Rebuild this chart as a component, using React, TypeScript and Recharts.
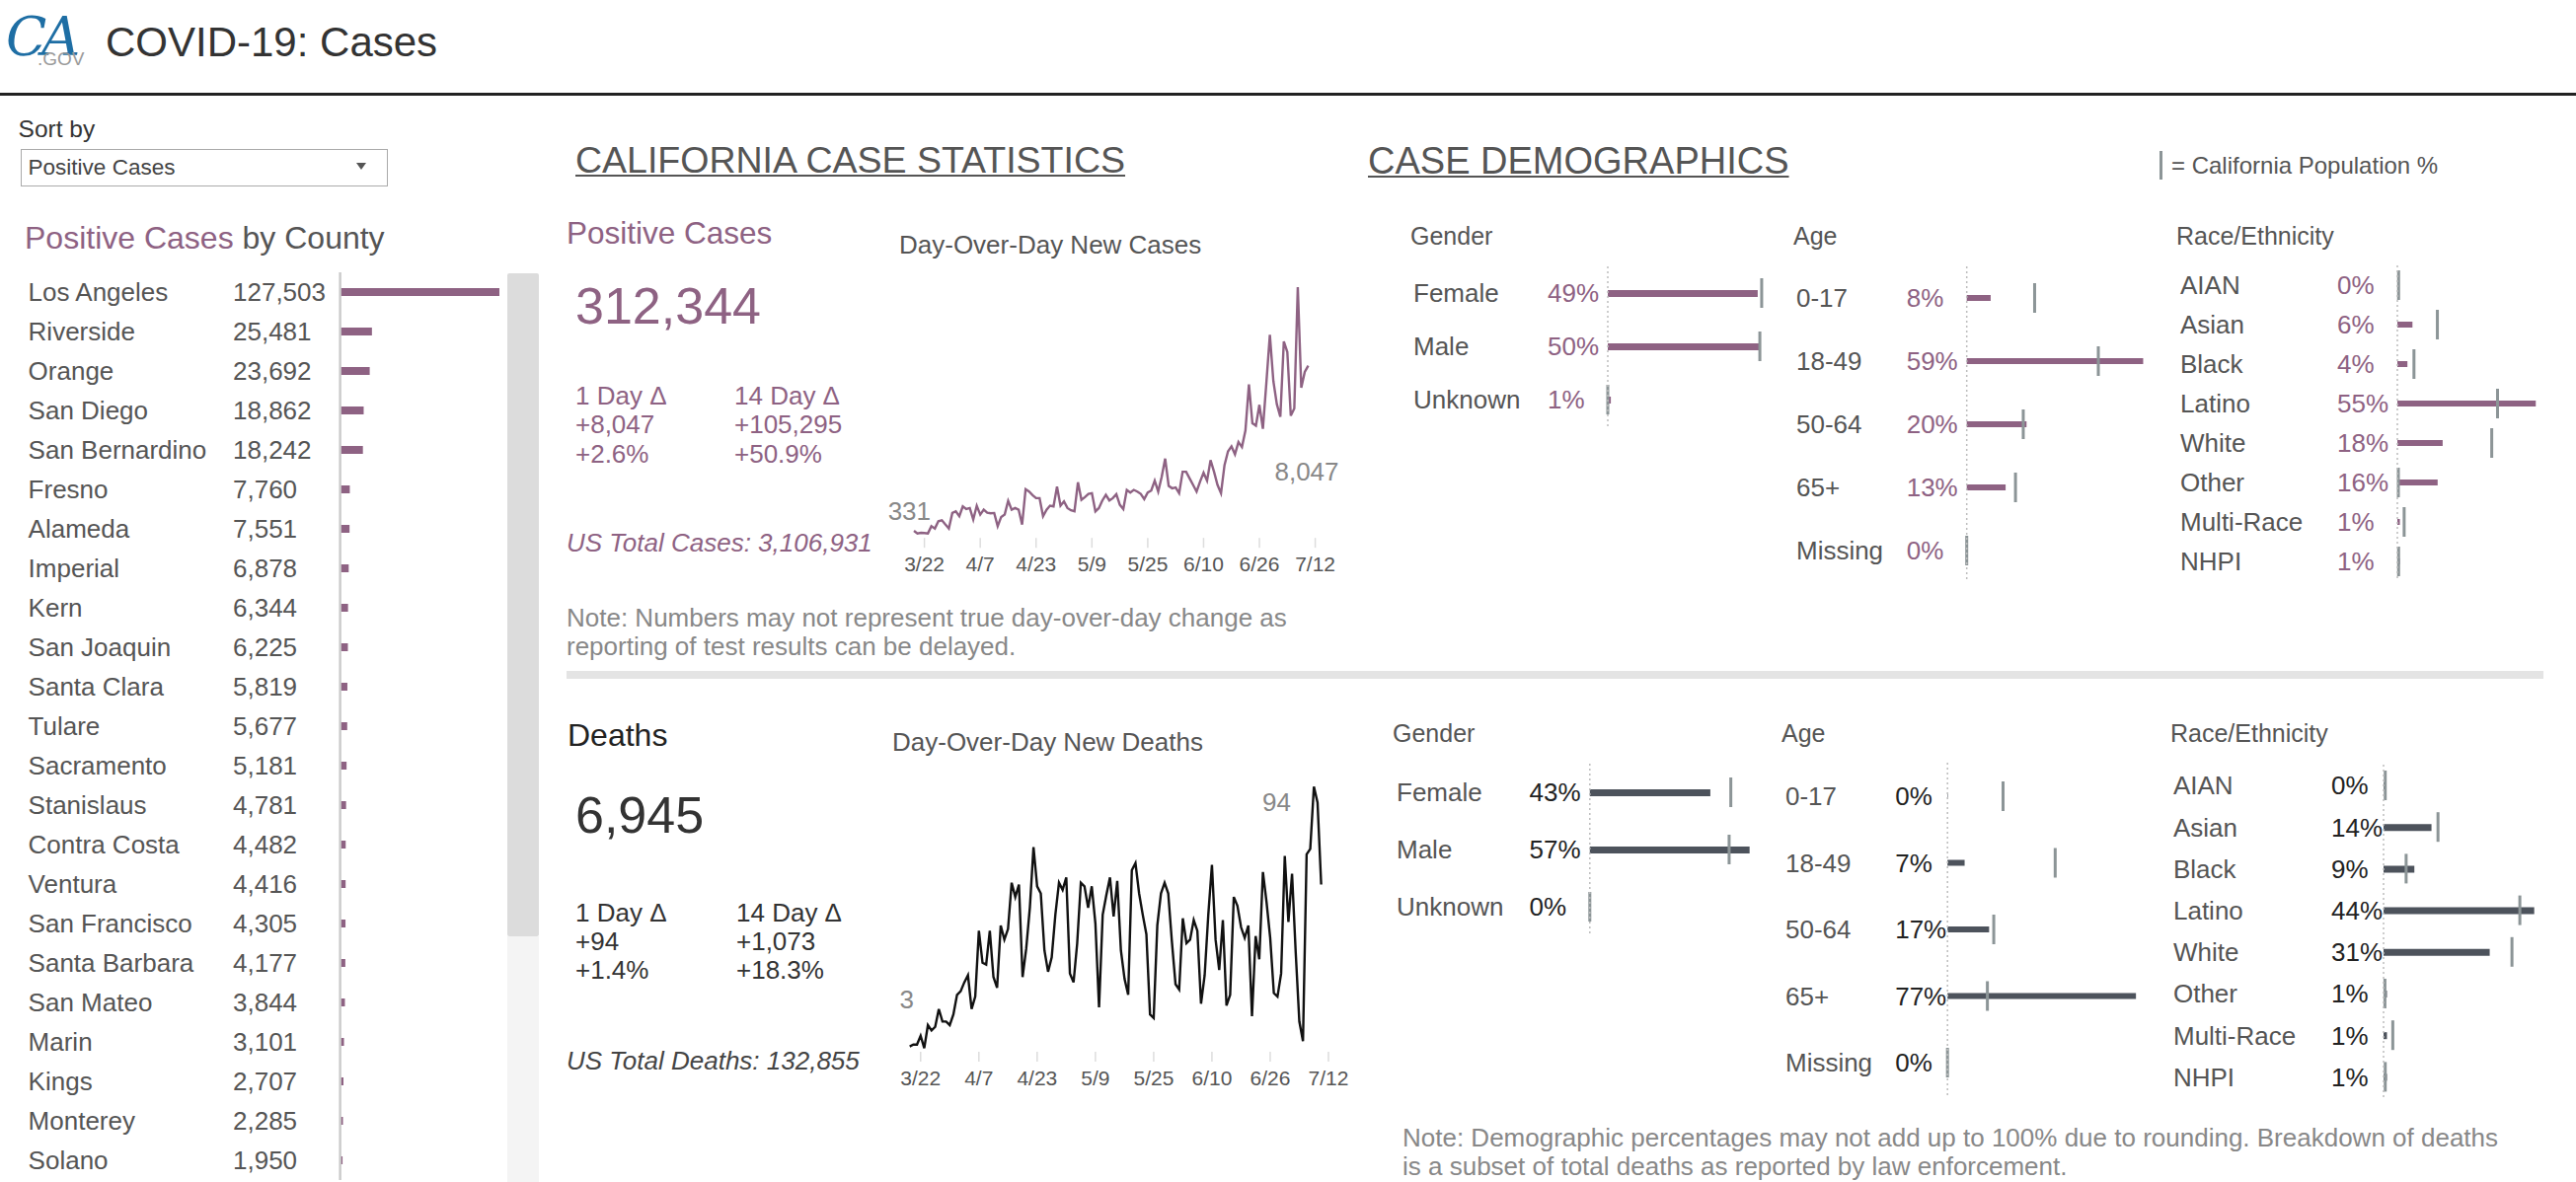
import React from 'react';
import { LineChart, Line, XAxis, YAxis, BarChart, Bar, LabelList } from 'recharts';

const PURPLE = '#8e6283';
const SLATE = '#4d535c';
const MARK = '#8c9597';
const FONT = '"Liberation Sans", Arial, Helvetica, sans-serif';

const countyNames = ['Los Angeles', 'Riverside', 'Orange', 'San Diego', 'San Bernardino', 'Fresno', 'Alameda', 'Imperial', 'Kern', 'San Joaquin', 'Santa Clara', 'Tulare', 'Sacramento', 'Stanislaus', 'Contra Costa', 'Ventura', 'San Francisco', 'Santa Barbara', 'San Mateo', 'Marin', 'Kings', 'Monterey', 'Solano'];
const countyCases = [127503, 25481, 23692, 18862, 18242, 7760, 7551, 6878, 6344, 6225, 5819, 5677, 5181, 4781, 4482, 4416, 4305, 4177, 3844, 3101, 2707, 2285, 1950];

// daily values starting 3/19
const caseDaily = [331, 210, 240, 225, 210, 548, 440, 782, 825, 628,
  440, 1164, 1241, 1010, 1472, 1349, 1395, 856, 1503, 1087,
  1318, 1180, 1150, 1164, 548, 979, 1087, 1734, 1318, 1395,
  1318, 625, 2273, 2165, 2000, 1857, 1857, 1010, 1318, 1503,
  1472, 2396, 1503, 1703, 1395, 1287, 1241, 2596, 1780, 1903,
  2057, 2088, 1241, 1395, 1749, 2011, 1749, 1857, 2042, 1549,
  1349, 2242, 2119, 2242, 2165, 2057, 1811, 2119, 2211, 2673,
  2165, 2858, 3705, 2427, 2319, 2350, 2088, 3089, 3089, 2781,
  2473, 2165, 2627, 3043, 2673, 3628, 3089, 2473, 2088, 3397,
  4043, 4274, 3905, 4475, 4243, 5014, 7170, 5353, 5245, 6215,
  5091, 7247, 9480, 7324, 6246, 5661, 9172, 8679, 5707, 6046,
  11712, 7016, 7755, 8047];
const deathDaily = [3, 4, 4, 9, 2, 15, 12, 14, 24, 17,
  17, 15, 21, 32, 34, 39, 43, 24, 31, 68,
  50, 49, 68, 42, 36, 71, 63, 69, 95, 87,
  94, 42, 58, 81, 115, 93, 89, 57, 45, 53,
  77, 95, 91, 98, 44, 39, 61, 95, 93, 81,
  93, 72, 25, 77, 88, 98, 76, 96, 57, 41,
  32, 102, 106, 89, 77, 66, 21, 19, 71, 89,
  95, 89, 62, 38, 35, 75, 61, 63, 74, 68,
  27, 43, 77, 105, 63, 46, 74, 26, 32, 87,
  82, 70, 64, 71, 20, 65, 52, 101, 84, 64,
  33, 31, 44, 110, 73, 100, 56, 17, 6, 111,
  114, 149, 140, 94];
const tickDays = [3, 19, 35, 51, 67, 83, 99, 115];
const tickLabels = ['3/22', '4/7', '4/23', '5/9', '5/25', '6/10', '6/26', '7/12'];

const genderCats = ['Female', 'Male', 'Unknown'];
const ageCats = ['0-17', '18-49', '50-64', '65+', 'Missing'];
const raceCats = ['AIAN', 'Asian', 'Black', 'Latino', 'White', 'Other', 'Multi-Race', 'NHPI'];
const genderPop = [50.3, 49.7, 0];
const agePop = [22.7, 44.0, 18.9, 16.3, 0];
const racePop = [0.5, 15.9, 6.6, 39.8, 37.5, 0.4, 2.7, 0.5];
const caseGender = [49, 50, 1];
const caseAge = [8, 59, 20, 13, 0];
const caseRace = [0.3, 6, 4, 55, 18, 16, 1, 1];
const deathGender = [43, 57, 0];
const deathAge = [0.2, 7, 17, 77, 0];
const deathRace = [0.3, 14, 9, 44, 31, 1, 1, 1];

const fmt = (n: number) => n.toLocaleString('en-US');

function Txt({ x, cy, size, color = '#555', children, italic, anchor = 'start', style }: any) {
  const st: React.CSSProperties = {
    position: 'absolute', top: cy - 0.49 * size, fontSize: size, lineHeight: `${size}px`, color,
    whiteSpace: 'nowrap', fontStyle: italic ? 'italic' : 'normal', fontFamily: FONT, ...style,
  };
  if (anchor === 'end') st.right = 2610 - x; else st.left = x;
  return <div style={st}>{children}</div>;
}

function CountyChart() {
  const data = countyNames.map((name, i) => ({ name, value: countyCases[i] }));
  const tick = (p: any) => {
    const i = countyNames.indexOf(p.payload.value);
    return (
      <g>
        <text x={28.6} y={p.y + 9.3} fontSize={26} fill="#555">{p.payload.value}</text>
        <text x={236} y={p.y + 9.3} fontSize={26} fill="#555">{fmt(countyCases[i])}</text>
      </g>
    );
  };
  return (
    <div style={{ position: 'absolute', left: 0, top: 275.7 }}>
      <BarChart layout="vertical" width={506} height={920} data={data} margin={{ top: 0, right: 0, bottom: 0, left: 0 }}>
        <XAxis type="number" domain={[0, 127503]} hide />
        <YAxis type="category" dataKey="name" width={344.6} axisLine={{ stroke: '#cccccc', strokeWidth: 2.5 }} tickLine={false} tick={tick} interval={0} />
        <Bar dataKey="value" barSize={8} fill={PURPLE} isAnimationActive={false} />
      </BarChart>
    </div>
  );
}

function DailyLine({ values, color, left, top, width, plotLeft, plotRight, plotTop, plotBottom, labels }: any) {
  const data = values.map((v: number, i: number) => ({ d: i, v }));
  const last = values.length - 1;
  const lab = (p: any) => {
    const { x, y, index, value } = p;
    let o = null;
    if (index === 0) o = labels[0];
    if (index === last) o = labels[1];
    if (!o) return null;
    return <text x={x + o[0]} y={y + o[1] + 9.3} textAnchor="end" fontSize={26} fill="#888">{fmt(value)}</text>;
  };
  return (
    <div style={{ position: 'absolute', left, top }}>
      <LineChart width={width} height={plotTop - top + plotBottom - plotTop + 40} data={data}
        margin={{ top: plotTop - top, left: plotLeft - left, right: left + width - plotRight, bottom: 0 }}>
        <XAxis type="number" dataKey="d" domain={[0, 115]} ticks={tickDays} interval={0} height={40}
          tickFormatter={(d: number) => tickLabels[tickDays.indexOf(d)]} axisLine={false}
          tickLine={{ stroke: '#dddddd', strokeWidth: 1.5 }} tickSize={10} tickMargin={9}
          tick={{ fontSize: 21, fill: '#555' }} />
        <YAxis hide domain={[0, 'dataMax']} />
        <Line type="linear" dataKey="v" stroke={color} strokeWidth={2.4} dot={false} isAnimationActive={false}>
          <LabelList dataKey="v" content={lab} />
        </Line>
      </LineChart>
    </div>
  );
}

function Demo({ cats, vals, pops, labelX, pctX, axisX, scale, top, rowH, barColor, pctColor, barSize }: any) {
  const svgLeft = labelX - 4;
  const axisW = axisX - svgLeft;
  const dom = 80;
  const width = axisW + dom * scale;
  const height = rowH * cats.length;
  const data = cats.map((c: string, i: number) => ({ c, v: vals[i], p: pops[i] }));
  const tick = (p: any) => {
    const i = cats.indexOf(p.payload.value);
    return (
      <g>
        <text x={labelX - svgLeft} y={p.y + 9.3} fontSize={26} fill="#555">{p.payload.value}</text>
        <text x={pctX - svgLeft} y={p.y + 9.3} fontSize={26} fill={pctColor}>{Math.round(vals[i])}%</text>
      </g>
    );
  };
  const marker = (p: any) => (
    <rect x={p.x + p.width - 1.5} y={p.y} width={3} height={p.height} fill={MARK} />
  );
  return (
    <div style={{ position: 'absolute', left: svgLeft, top }}>
      <BarChart layout="vertical" width={width} height={height} data={data} margin={{ top: 0, right: 0, bottom: 0, left: 0 }}>
        <XAxis type="number" domain={[0, dom]} hide />
        <YAxis yAxisId="p" type="category" dataKey="c" hide width={0} />
        <YAxis yAxisId="v" type="category" dataKey="c" width={axisW} interval={0} tickLine={false} tick={tick}
          axisLine={{ stroke: '#bdbdbd', strokeDasharray: '2 3', strokeWidth: 1.5 }} />
        <Bar yAxisId="v" dataKey="v" barSize={barSize} fill={barColor} isAnimationActive={false} />
        <Bar yAxisId="p" dataKey="p" barSize={30} shape={marker} isAnimationActive={false} />
      </BarChart>
    </div>
  );
}

export default function App() {
  const underline: React.CSSProperties = { textDecoration: 'underline', textDecorationThickness: '2px', textUnderlineOffset: '2px' };
  return (
    <div style={{ position: 'absolute', left: 0, top: 0, width: 2610, height: 1198, overflow: 'hidden', background: '#fff', fontFamily: FONT }}>
      {/* header logo */}
      <svg style={{ position: 'absolute', left: 0, top: 0 }} width={100} height={80}>
        <text x={6} y={56} fontFamily='"DejaVu Serif", serif' fontStyle="italic" fontSize={54} fill="#1e6ea4" letterSpacing={-5}>
          CA
          <tspan x={38} y={66} fontFamily={FONT} fontStyle="normal" fontSize={19} fill="#9a9a9a" letterSpacing={0}>.GOV</tspan>
        </text>
      </svg>
      <Txt x={107} cy={42.5} size={42} color="#333">COVID-19: Cases</Txt>
      <div style={{ position: 'absolute', left: 0, top: 94, width: 2610, height: 3, background: '#222' }} />

      {/* sort by */}
      <Txt x={18.6} cy={131} size={24.5} color="#333">Sort by</Txt>
      <div style={{ position: 'absolute', left: 21, top: 151, width: 372, height: 38, border: '1.5px solid #aaa', boxSizing: 'border-box' }} />
      <Txt x={28.6} cy={170} size={22.5} color="#444">Positive Cases</Txt>
      <div style={{ position: 'absolute', left: 361, top: 165, width: 0, height: 0, borderLeft: '5px solid transparent', borderRight: '5px solid transparent', borderTop: '7px solid #555' }} />

      {/* county list */}
      <Txt x={25} cy={241} size={32} color="#555"><span style={{ color: PURPLE }}>Positive Cases</span> by County</Txt>
      <div style={{ position: 'absolute', left: 514, top: 277, width: 32, height: 672, background: '#dcdcdc', borderRadius: 2 }} />
      <div style={{ position: 'absolute', left: 514, top: 949, width: 32, height: 260, background: '#f4f4f4' }} />
      <CountyChart />

      {/* section headings */}
      <Txt x={583} cy={162} size={37.5} color="#555" style={underline}>CALIFORNIA CASE STATISTICS</Txt>
      <Txt x={1386} cy={163} size={38} color="#555" style={underline}>CASE DEMOGRAPHICS</Txt>
      <div style={{ position: 'absolute', left: 2187.5, top: 153, width: 3, height: 29, background: MARK }} />
      <Txt x={2200} cy={168} size={24} color="#555">= California Population %</Txt>

      {/* cases stats */}
      <Txt x={574} cy={236.8} size={31.5} color={PURPLE}>Positive Cases</Txt>
      <Txt x={583} cy={309.5} size={52} color={PURPLE}>312,344</Txt>
      <Txt x={583} cy={401} size={26} color={PURPLE}>1 Day Δ</Txt>
      <Txt x={583} cy={430} size={26} color={PURPLE}>+8,047</Txt>
      <Txt x={583} cy={460} size={26} color={PURPLE}>+2.6%</Txt>
      <Txt x={744} cy={401} size={26} color={PURPLE}>14 Day Δ</Txt>
      <Txt x={744} cy={430} size={26} color={PURPLE}>+105,295</Txt>
      <Txt x={744} cy={460} size={26} color={PURPLE}>+50.9%</Txt>
      <Txt x={574} cy={550} size={26} color={PURPLE} italic>US Total Cases: 3,106,931</Txt>
      <Txt x={911} cy={248} size={26} color="#555">Day-Over-Day New Cases</Txt>
      <DailyLine values={caseDaily} color={PURPLE} left={896} top={280} width={474} plotLeft={926} plotRight={1332.6} plotTop={291} plotBottom={545.2} labels={[[17, -20], [31, 107]]} />
      <Txt x={574} cy={626} size={26} color="#888">Note: Numbers may not represent true day-over-day change as</Txt>
      <Txt x={574} cy={655} size={26} color="#888">reporting of test results can be delayed.</Txt>
      <div style={{ position: 'absolute', left: 574, top: 680, width: 2003, height: 8, background: '#e4e4e4' }} />

      {/* deaths stats */}
      <Txt x={575} cy={745} size={32} color="#222">Deaths</Txt>
      <Txt x={583} cy={825} size={52} color="#333">6,945</Txt>
      <Txt x={583} cy={925} size={26} color="#333">1 Day Δ</Txt>
      <Txt x={583} cy={954} size={26} color="#333">+94</Txt>
      <Txt x={583} cy={983} size={26} color="#333">+1.4%</Txt>
      <Txt x={746} cy={925} size={26} color="#333">14 Day Δ</Txt>
      <Txt x={746} cy={954} size={26} color="#333">+1,073</Txt>
      <Txt x={746} cy={983} size={26} color="#333">+18.3%</Txt>
      <Txt x={574} cy={1075} size={26} color="#444" italic>US Total Deaths: 132,855</Txt>
      <Txt x={904} cy={752} size={26} color="#555">Day-Over-Day New Deaths</Txt>
      <DailyLine values={deathDaily} color="#111" left={896} top={787} width={474} plotLeft={921.7} plotRight={1346} plotTop={797.3} plotBottom={1066} labels={[[4.3, -47.6], [-30.7, -83.7]]} />

      {/* demographics headers */}
      <Txt x={1429} cy={239} size={25}>Gender</Txt>
      <Txt x={1817} cy={239} size={25}>Age</Txt>
      <Txt x={2205} cy={239} size={25}>Race/Ethnicity</Txt>
      <Txt x={1411} cy={743} size={25}>Gender</Txt>
      <Txt x={1805} cy={743} size={25}>Age</Txt>
      <Txt x={2199} cy={743} size={25}>Race/Ethnicity</Txt>

      <Demo cats={genderCats} vals={caseGender} pops={genderPop} labelX={1432} pctX={1568} axisX={1629} scale={3.1} top={270} rowH={54} barColor={PURPLE} pctColor={PURPLE} barSize={7} />
      <Demo cats={ageCats} vals={caseAge} pops={agePop} labelX={1820} pctX={1931.7} axisX={1992.7} scale={3.03} top={269.7} rowH={64} barColor={PURPLE} pctColor={PURPLE} barSize={6} />
      <Demo cats={raceCats} vals={caseRace} pops={racePop} labelX={2209} pctX={2368} axisX={2429} scale={2.55} top={269} rowH={40} barColor={PURPLE} pctColor={PURPLE} barSize={6} />
      <Demo cats={genderCats} vals={deathGender} pops={genderPop} labelX={1415} pctX={1549.6} axisX={1610.8} scale={2.84} top={773.7} rowH={58} barColor={SLATE} pctColor="#222" barSize={7} />
      <Demo cats={ageCats} vals={deathAge} pops={agePop} labelX={1808.8} pctX={1920} axisX={1973} scale={2.48} top={773} rowH={67.5} barColor={SLATE} pctColor="#222" barSize={6} />
      <Demo cats={raceCats} vals={deathRace} pops={racePop} labelX={2202} pctX={2362} axisX={2415} scale={3.47} top={775} rowH={42.2} barColor={SLATE} pctColor="#222" barSize={7} />

      <Txt x={1421} cy={1153} size={26} color="#888">Note: Demographic percentages may not add up to 100% due to rounding. Breakdown of deaths</Txt>
      <Txt x={1421} cy={1182} size={26} color="#888">is a subset of total deaths as reported by law enforcement.</Txt>
    </div>
  );
}
